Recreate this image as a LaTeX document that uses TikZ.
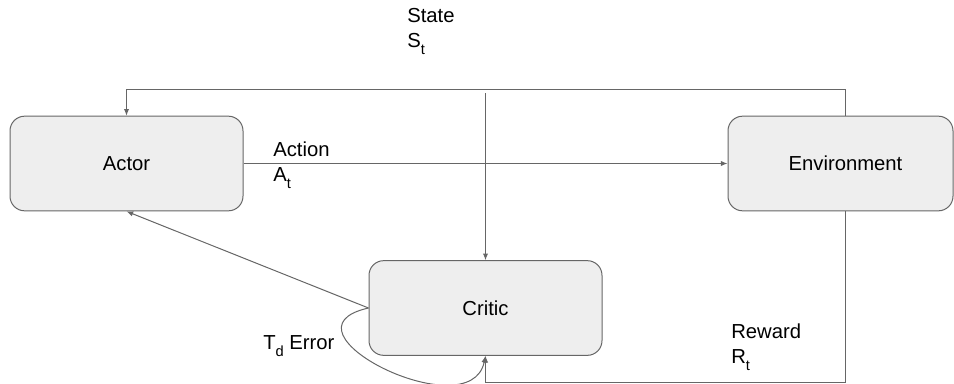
\documentclass[tikz,border=0pt]{standalone}
\usepackage{fontspec}
\setmainfont{Liberation Sans}
\usetikzlibrary{arrows.meta}
\definecolor{boxfill}{HTML}{EEEEEE}
\definecolor{edge}{HTML}{666666}
\newcommand{\sbt}[1]{\raisebox{-0.35em}{\fontsize{11}{12}\selectfont #1}}

\begin{document}
\begin{tikzpicture}[x=0.75pt, y=-0.75pt,
  nodes = {font=\fontsize{15.2}{18.4}\selectfont},
  block/.style = {draw=edge, fill=boxfill, rounded corners=11pt,
    minimum width=174.75pt, minimum height=71pt, line width=0.75pt},
  lbl/.style = {align=left, anchor=west, inner sep=0pt},
  arr/.style = {draw=edge, line width=0.75pt, -{Latex[length=5pt,width=4pt]}}
  ]
  \useasboundingbox (0,0) rectangle (954,383);
  \node (actor)  [block] at (126.5,163.5) {Actor};
  \node (env)    [block, minimum width=168.75pt] at (840.5,163.5) {\hspace*{7.5pt}Environment};
  \node (critic) [block] at (485.5,308) {Critic};

  \coordinate (stin)  at (485.5,93);
  \coordinate (envup) at (845,89);
  \coordinate (envdn) at (845,382);

  \node (state)  [lbl] at (407,31.5) {State\\S\sbt{t}};
  \node (action) [lbl] at (273,165)  {Action\\A\sbt{t}};
  \node (tderr)  [lbl] at (263,346)  {T\sbt{d} Error};
  \node (reward) [lbl] at (731,347)  {Reward\\R\sbt{t}};

  \draw [arr] (actor) -- (env);
  \draw [arr] (env.north -| envup) -- (envup) -| (actor.north);
  \draw [arr] (env.south -| envdn) -- (envdn) -| (critic.south);
  \draw [arr] (stin) -- (critic.north);
  \draw [arr] (critic.west) -- (actor.south);
  \draw [arr] (critic.west) .. controls (270,330) and (470,430) .. (critic.south);
\end{tikzpicture}
\end{document}
